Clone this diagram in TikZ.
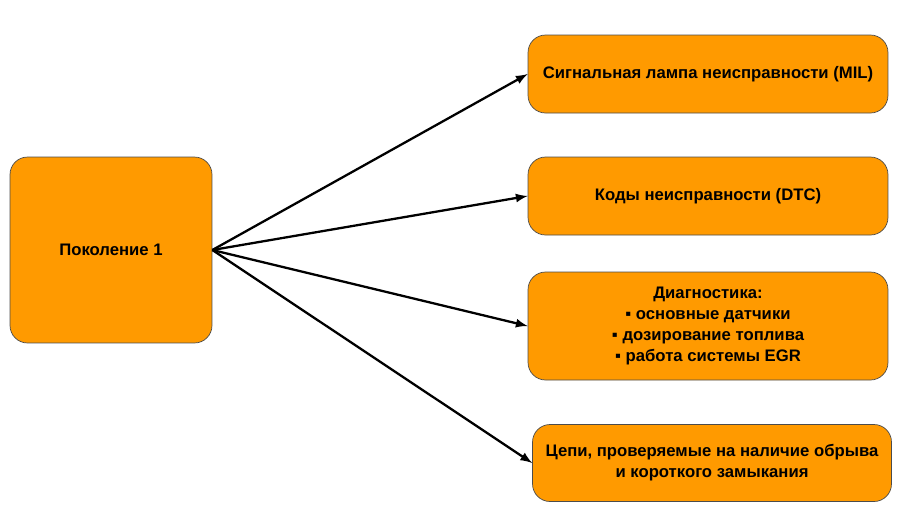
\documentclass[tikz,border=0pt]{standalone}
\usepackage{fontspec}
\setmainfont{Liberation Sans}
\definecolor{boxorange}{HTML}{FF9A00}
\begin{document}
\begin{tikzpicture}[x=0.02cm,y=-0.02cm,
  box node/.style={draw=black!70,thin,fill=boxorange,rounded corners=0.35cm,align=center,font=\fontsize{9.5}{12}\selectfont\bfseries,inner sep=2pt}]
\useasboundingbox (0,0) rectangle (899,529);
\begin{scope}
\node[box node,minimum width=4.04cm,minimum height=3.72cm] (gen) at (111,250) {Поколение 1};
\node[box node,minimum width=7.2cm,minimum height=1.56cm] (mil) at (708,74) {Сигнальная лампа неисправности (MIL)};
\node[box node,minimum width=7.2cm,minimum height=1.56cm] (dtc) at (708,196) {Коды неисправности (DTC)};
\node[box node,minimum width=7.2cm,minimum height=2.16cm] (diag) at (708,326) {Диагностика:\\ ▪ основные датчики\\ ▪ дозирование топлива\\ ▪ работа системы EGR};
\node[box node,minimum width=7.18cm,minimum height=1.54cm] (circ) at (712,463) {Цепи, проверяемые на наличие обрыва\\ и короткого замыкания};
\end{scope}
\begin{scope}[every edge/.style={draw=black,line width=1.3pt,-latex}]
\draw (gen.east) edge (mil.west);
\draw (gen.east) edge (dtc.west);
\draw (gen.east) edge (diag.west);
\draw (gen.east) edge (circ.west);
\end{scope}
\end{tikzpicture}
\end{document}
